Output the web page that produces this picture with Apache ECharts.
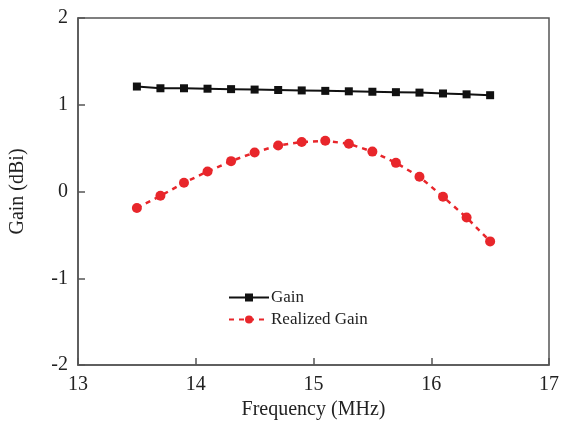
<!DOCTYPE html>
<html><head><meta charset="utf-8">
<script src="https://cdn.jsdelivr.net/npm/echarts@6/dist/echarts.min.js"></script>
<style>html,body{margin:0;padding:0;background:#fff}#c{width:562px;height:425px}</style>
</head><body><div id="c"></div>
<script>
var freq = [13.5,13.7,13.9,14.1,14.3,14.5,14.7,14.9,15.1,15.3,15.5,15.7,15.9,16.1,16.3,16.5];
var gain = [1.21,1.19,1.19,1.185,1.18,1.175,1.17,1.165,1.16,1.155,1.15,1.145,1.14,1.13,1.12,1.11];
var realizedGain = [-0.19,-0.05,0.10,0.23,0.35,0.45,0.53,0.57,0.585,0.55,0.46,0.33,0.17,-0.06,-0.30,-0.575];
var seriesNames = ['Gain','Realized Gain'];

function pairs(xs, ys){ return xs.map(function(x,i){ return [x, ys[i]]; }); }
var font = 'Liberation Serif';
var chart = echarts.init(document.getElementById('c'));
chart.setOption({
  animation:false,
  backgroundColor:'#fff',
  textStyle:{fontFamily:font},
  grid:{left:78,top:18,right:13,bottom:59,show:true,borderColor:'#555',borderWidth:1.5,backgroundColor:'transparent'},
  legend:{
    left:223, top:284, orient:'vertical', itemGap:5, itemWidth:40, itemHeight:10,
    textStyle:{fontFamily:font,fontSize:17,color:'#222',padding:[0,0,0,-3]},
    data:[{name:seriesNames[0]},{name:seriesNames[1]}]
  },
  xAxis:{
    type:'value', min:13, max:17, interval:1,
    name:'Frequency (MHz)', nameLocation:'middle', nameGap:35,
    nameTextStyle:{fontFamily:font,fontSize:20,color:'#222'},
    axisLine:{show:true,onZero:false,lineStyle:{color:'#555',width:1.5}},
    axisTick:{show:true,inside:true,length:7,lineStyle:{color:'#555',width:1.5}},
    axisLabel:{fontFamily:font,fontSize:20,color:'#222',margin:10},
    splitLine:{show:false}
  },
  yAxis:{
    type:'value', min:-2, max:2, interval:1,
    name:'Gain (dBi)', nameLocation:'middle', nameGap:50,
    nameTextStyle:{fontFamily:font,fontSize:20,color:'#222'},
    axisLine:{show:true,onZero:false,lineStyle:{color:'#555',width:1.5}},
    axisTick:{show:true,inside:true,length:7,lineStyle:{color:'#555',width:1.5}},
    axisLabel:{fontFamily:font,fontSize:20,color:'#222',margin:10},
    splitLine:{show:false}
  },
  series:[
    {name:seriesNames[0],type:'line',data:pairs(freq,gain),symbol:'rect',symbolSize:8,
     lineStyle:{color:'#111',width:2},itemStyle:{color:'#111'}},
    {name:seriesNames[1],type:'line',data:pairs(freq,realizedGain),symbol:'circle',symbolSize:10,
     lineStyle:{color:'#e8262b',width:2.5,type:[5,5]},itemStyle:{color:'#e8262b'}}
  ]
});
</script></body></html>
